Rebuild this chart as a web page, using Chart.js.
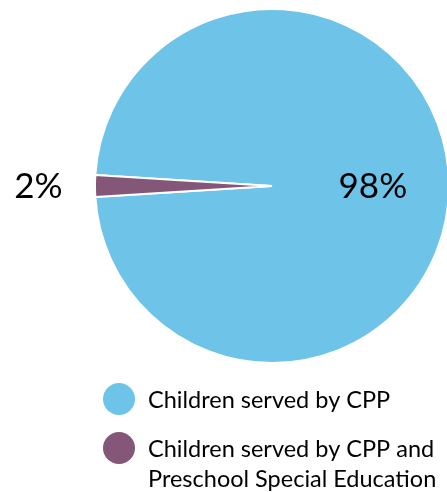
<!DOCTYPE html>
<html>
<head>
<meta charset="utf-8">
<script src="https://cdn.jsdelivr.net/npm/chart.js@4"></script>
<style>
  html, body { margin: 0; padding: 0; background: #fff; overflow: hidden; }
  #wrap { width: 447px; height: 492px; overflow: hidden; }
  canvas { display: block; }
</style>
</head>
<body>
<div id="wrap"><canvas id="pieChart" width="460" height="492"></canvas></div>
<script>
/* ---------- DATA ---------- */
const categories = [
    ["Children served by CPP"],
    ["Children served by CPP and", "Preschool Special Education"]
];
const shares = [98, 2];
const sliceColors = ["#6ec4e8", "#845678"];

/* ---------- LOOK ---------- */
const FONT = "Lato, 'Open Sans', sans-serif";
const labelRadius = [0.57, 1.32];   // radial spot of each % label, in radii

/* percentage labels drawn next to each arc */
const pctLabels = {
    id: "pctLabels",
    afterDatasetsDraw(chart) {
        const ctx = chart.ctx;
        const arcs = chart.getDatasetMeta(0).data;
        ctx.save();
        ctx.font = "35px " + FONT;
        ctx.fillStyle = "#000";
        ctx.textAlign = "center";
        ctx.textBaseline = "middle";
        arcs.forEach((arc, i) => {
            const mid = (arc.startAngle + arc.endAngle) / 2;
            const r = arc.outerRadius * labelRadius[i];
            const x = arc.x + Math.cos(mid) * r;
            const y = arc.y + Math.sin(mid) * r;
            ctx.fillText(shares[i] + "%", x, y + 1);
        });
        ctx.restore();
    }
};

/* legend under the pie, circle marker + one or two text lines */
const sideLegend = {
    id: "sideLegend",
    afterDraw(chart) {
        const ctx = chart.ctx;
        const rows = [408, 457];
        ctx.save();
        ctx.font = "23.5px " + FONT;
        ctx.textBaseline = "alphabetic";
        ctx.textAlign = "left";
        categories.forEach((lines, i) => {
            ctx.beginPath();
            ctx.arc(119, rows[i] - 9, 16, 0, Math.PI * 2);
            ctx.fillStyle = sliceColors[i];
            ctx.fill();
            ctx.fillStyle = "#000";
            lines.forEach((t, j) => ctx.fillText(t, 148, rows[i] + j * 30));
        });
        ctx.restore();
    }
};

/* ---------- CHART ---------- */
new Chart(document.getElementById("pieChart"), {
    type: "pie",
    data: {
        labels: categories.map(l => l.join(" ")),
        datasets: [{
            data: shares,
            backgroundColor: sliceColors,
            borderColor: "#fff",
            borderWidth: 2
        }]
    },
    options: {
        responsive: false,
        animation: false,
        rotation: -86.4,
        layout: { padding: { left: 94, right: 10, top: 8, bottom: 128 } },
        plugins: {
            legend: { display: false },
            tooltip: { enabled: false }
        }
    },
    plugins: [pctLabels, sideLegend]
});
</script>
</body>
</html>
